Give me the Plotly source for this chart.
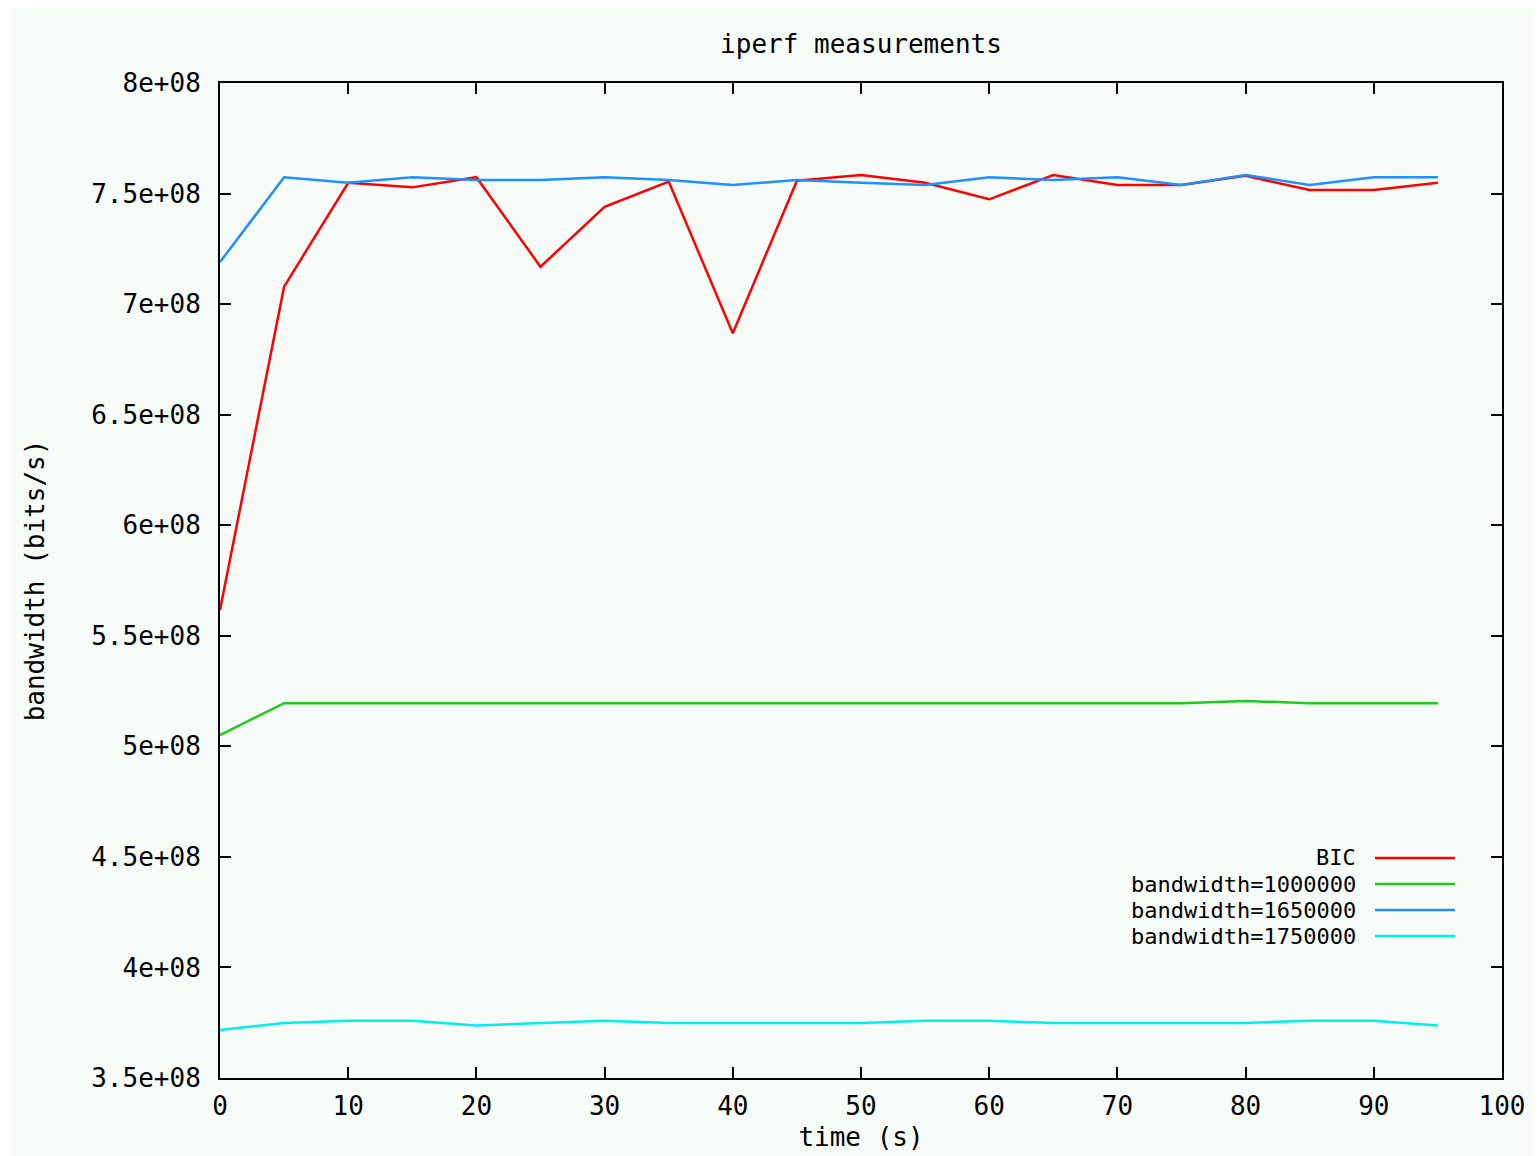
import plotly.graph_objects as go

# ---- data ----
time_s = [0, 5, 10, 15, 20, 25, 30, 35, 40, 45, 50, 55, 60, 65, 70, 75, 80, 85, 90, 95]

bic = [5.617e8, 7.079e8, 7.549e8, 7.528e8, 7.574e8, 7.169e8, 7.440e8, 7.554e8, 6.868e8, 7.558e8,
       7.584e8, 7.549e8, 7.474e8, 7.584e8, 7.539e8, 7.539e8, 7.580e8, 7.516e8, 7.516e8, 7.549e8]
bw_1000000 = [5.051e8, 5.195e8, 5.195e8, 5.195e8, 5.195e8, 5.195e8, 5.195e8, 5.195e8, 5.195e8, 5.195e8,
              5.195e8, 5.195e8, 5.195e8, 5.195e8, 5.195e8, 5.195e8, 5.205e8, 5.195e8, 5.195e8, 5.195e8]
bw_1650000 = [7.190e8, 7.574e8, 7.549e8, 7.574e8, 7.561e8, 7.561e8, 7.574e8, 7.561e8, 7.539e8, 7.561e8,
              7.549e8, 7.539e8, 7.574e8, 7.561e8, 7.574e8, 7.539e8, 7.584e8, 7.539e8, 7.574e8, 7.574e8]
bw_1750000 = [3.717e8, 3.749e8, 3.759e8, 3.759e8, 3.738e8, 3.749e8, 3.759e8, 3.749e8, 3.749e8, 3.749e8,
              3.749e8, 3.759e8, 3.759e8, 3.749e8, 3.749e8, 3.749e8, 3.749e8, 3.759e8, 3.759e8, 3.738e8]

series_names = ["BIC", "bandwidth=1000000", "bandwidth=1650000", "bandwidth=1750000"]
series_values = [bic, bw_1000000, bw_1650000, bw_1750000]
series_colors = ["#ff0000", "#22c822", "#1e90ff", "#00eeee"]

x_tick_vals = [0, 10, 20, 30, 40, 50, 60, 70, 80, 90, 100]
x_tick_text = ["0", "10", "20", "30", "40", "50", "60", "70", "80", "90", "100"]
y_tick_vals = [3.5e8, 4e8, 4.5e8, 5e8, 5.5e8, 6e8, 6.5e8, 7e8, 7.5e8, 8e8]
y_tick_text = ["3.5e+08", "4e+08", "4.5e+08", "5e+08", "5.5e+08", "6e+08", "6.5e+08", "7e+08", "7.5e+08", "8e+08"]

# ---- layout constants (page pixels; figure sits 8px in from the page corner) ----
OFF = 8
W, H = 1539 - OFF, 1156 - OFF
PL, PT, PR, PB = 220, 83, 1502, 1078          # plot box in page pixels
ML, MT = PL - OFF, PT - OFF
MR, MB = W - (PR - OFF), H - (PB - OFF)
PW, PH = PR - PL, PB - PT
BG = "rgb(246,251,248)"
FONT = "DejaVu Sans Mono"
FS = 26
FS_LEG = 22

fig = go.Figure()
for name, vals, col in zip(series_names, series_values, series_colors):
    fig.add_trace(go.Scatter(x=time_s, y=vals, mode="lines", name=name,
                             line=dict(color=col, width=2.5), showlegend=False))

axis_common = dict(showline=True, linecolor="black", linewidth=2, mirror="ticks",
                   ticks="inside", ticklen=11, tickwidth=2, tickcolor="black",
                   showgrid=False, zeroline=False,
                   tickfont=dict(family=FONT, size=FS, color="black"))

fig.update_xaxes(range=[0, 100], tickvals=x_tick_vals, ticktext=x_tick_text,
                 title=dict(text="time (s)", font=dict(family=FONT, size=FS, color="black"), standoff=8),
                 ticklabelstandoff=4, **axis_common)
fig.update_yaxes(range=[3.5e8, 8e8], tickvals=y_tick_vals, ticktext=y_tick_text,
                 title=dict(text="bandwidth (bits/s)", font=dict(family=FONT, size=FS, color="black"), standoff=39),
                 ticklabelstandoff=12, **axis_common)

# helpers: page pixels -> paper coordinates
def px_x(px):
    return (px - PL) / PW

def px_y(py):
    return (PB - py) / PH

# legend drawn as text + line samples (symbol on the right, gnuplot style)
legend_rows_y = [858, 884, 910, 936]
for name, col, py in zip(series_names, series_colors, legend_rows_y):
    fig.add_annotation(x=px_x(1358), y=px_y(py), xref="paper", yref="paper",
                       text=name, showarrow=False, xanchor="right", yanchor="middle",
                       font=dict(family=FONT, size=FS_LEG, color="black"))
    fig.add_shape(type="line", xref="paper", yref="paper",
                  x0=px_x(1375), x1=px_x(1455), y0=px_y(py), y1=px_y(py),
                  line=dict(color=col, width=2.5))

# white border strip at the left of the image
fig.add_shape(type="rect", xref="paper", yref="paper", x0=px_x(0), x1=px_x(12),
              y0=px_y(1160), y1=px_y(0), fillcolor="white", line=dict(width=0), layer="below")

fig.update_layout(
    width=W, height=H,
    margin=dict(l=ML, r=MR, t=MT, b=MB, autoexpand=False),
    paper_bgcolor=BG, plot_bgcolor=BG,
    title=dict(text="iperf measurements", x=px_x(861), xref="paper", xanchor="center",
               y=1 - (44 - OFF) / H, yref="container", yanchor="middle",
               font=dict(family=FONT, size=FS, color="black")),
)

fig.write_html("out.html")
